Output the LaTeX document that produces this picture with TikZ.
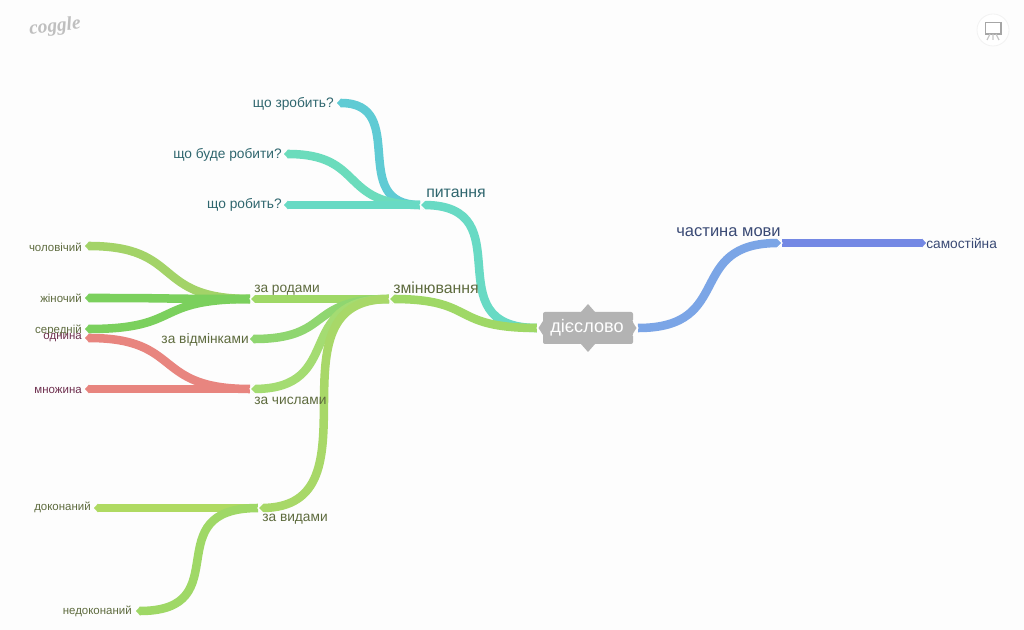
\documentclass[tikz,border=0pt]{standalone}
\usepackage{fontspec}
\setmainfont{Liberation Sans}
\newfontfamily\logofont{Liberation Serif}
\usetikzlibrary{arrows.meta,calc}
\definecolor{bgc}{HTML}{FDFDFD}
\definecolor{rootc}{HTML}{B3B3B3}
\definecolor{cA}{HTML}{5FCBD4}
\definecolor{cB}{HTML}{6BDCBC}
\definecolor{cC}{HTML}{68DAC4}
\definecolor{cD}{HTML}{A3D368}
\definecolor{cE}{HTML}{7BD05D}
\definecolor{cF}{HTML}{8FD670}
\definecolor{cG}{HTML}{A4DC72}
\definecolor{cH}{HTML}{E8857F}
\definecolor{cI}{HTML}{A8D868}
\definecolor{cJ}{HTML}{AFDA62}
\definecolor{cK}{HTML}{9FD866}
\definecolor{cL}{HTML}{7BA5E6}
\definecolor{cM}{HTML}{7488E4}
\definecolor{tTeal}{HTML}{2F666E}
\definecolor{tGreen}{HTML}{5E6B3E}
\definecolor{tRed}{HTML}{6E2F4E}
\definecolor{tBlue}{HTML}{3A4A75}
\newcommand{\conn}[4][0.6]{%
  \draw[branch,draw=#4] let \p1=(#2),\p2=(#3) in (#2) .. controls ({\x1+#1*(\x2-\x1)},\y1) and ({\x2-#1*(\x2-\x1)},\y2) .. (#3);}
\newcommand{\chevL}[1]{\draw[chev] ($(#1)+(5,-5)$) -- (#1) -- ($(#1)+(5,5)$);}
\newcommand{\chevR}[1]{\draw[chev] ($(#1)+(-5,-5)$) -- (#1) -- ($(#1)+(-5,5)$);}
\tikzset{
  x=0.75pt,y=-0.75pt,
  branch/.style={line width=6.4pt,-{Triangle[length=3pt,width=6.4pt]}},
  chev/.style={draw=white,line width=0.8pt},
  small/.style={inner sep=0pt,font=\fontsize{8.6pt}{9pt}\selectfont},
  mid/.style={inner sep=0pt,font=\fontsize{10.3pt}{11pt}\selectfont},
  large/.style={inner sep=0pt,font=\fontsize{11.9pt}{12pt}\selectfont},
}
\begin{document}
\begin{tikzpicture}
\useasboundingbox (0,0) rectangle (1024,630);
\fill[bgc] (0,0) rectangle (1024,630);
% junctions and ends
\coordinate (rl) at (537,328);
\coordinate (rr) at (638,328);
\coordinate (jpyt) at (420,205);
\coordinate (jzmi) at (389,299);
\coordinate (jrod) at (250,299);
\coordinate (jvid) at (250,339);
\coordinate (jchy) at (250,389);
\coordinate (jvyd) at (258,508);
\coordinate (jcha) at (782,243);
\coordinate (e1) at (337,103);
\coordinate (e2) at (284,154);
\coordinate (e3) at (284,205);
\coordinate (e4) at (85,246);
\coordinate (e5) at (85,298);
\coordinate (e6) at (85,329);
\coordinate (e7) at (85,338);
\coordinate (e8) at (85,389);
\coordinate (e9) at (94,508);
\coordinate (e10) at (136,611);
\coordinate (e11) at (926,243);
% connectors, outermost first
\conn[0.88]{jpyt}{e1}{cA}
\conn{jpyt}{e2}{cB}
\conn{jpyt}{e3}{cC}
\conn{jrod}{e4}{cD}
\conn{jrod}{e5}{cE}
\conn{jrod}{e6}{cE}
\conn{jchy}{e7}{cH}
\conn{jchy}{e8}{cH}
\conn{jvyd}{e9}{cJ}
\conn[0.85]{jvyd}{e10}{cK}
\conn{jcha}{e11}{cM}
\conn[0.9]{rl}{jpyt}{cC}
\conn{jzmi}{jrod}{cK}
\conn{jzmi}{jvid}{cF}
\conn[0.7]{jzmi}{jchy}{cG}
\conn[0.97]{jzmi}{jvyd}{cI}
\conn{rl}{jzmi}{cK}
\conn[0.68]{rr}{jcha}{cL}
\chevL{jpyt}\chevL{jzmi}\chevL{jrod}\chevL{jchy}\chevL{jvyd}\chevR{jcha}
% central topic
\fill[rootc,rounded corners=1.5pt] (543,312) rectangle (633,344);
\fill[rootc] (581,312) -- (588,304) -- (595,312) -- cycle;
\fill[rootc] (581,344) -- (588,352) -- (595,344) -- cycle;
\fill[bgc] (537,320) rectangle (539,336);
\fill[rootc] (543,321) -- (538.5,328) -- (543,335) -- cycle;
\fill[rootc] (632,321) -- (636.5,328) -- (632,335) -- cycle;
\draw[chev] (542,320) -- (537,328) -- (542,336);
\draw[chev] (633,320) -- (638,328) -- (633,336);
\node[text=white,inner sep=0pt,font=\fontsize{13.6pt}{14pt}\selectfont] (root) at (587,328) {дієслово};
% labels
\node[mid,anchor=east,text=tTeal] (n1) at (334,104) {що зробить?};
\node[mid,anchor=east,text=tTeal] (n2) at (282,155) {що буде робити?};
\node[mid,anchor=east,text=tTeal] (n3) at (282,205) {що робить?};
\node[large,anchor=west,text=tTeal] (n4) at (426,193) {питання};
\node[large,anchor=west,text=tGreen] (n5) at (393,288) {змінювання};
\node[mid,anchor=west,text=tGreen] (n6) at (254,290) {за родами};
\node[mid,anchor=east,text=tGreen] (n7) at (249,340) {за відмінками};
\node[mid,anchor=west,text=tGreen] (n8) at (254,401) {за числами};
\node[mid,anchor=west,text=tGreen] (n9) at (262,519) {за видами};
\node[small,anchor=east,text=tGreen] (n10) at (82,247) {чоловічий};
\node[small,anchor=east,text=tGreen] (n11) at (82,298) {жіночий};
\node[small,anchor=east,text=tGreen] (n12) at (82,330) {середній};
\node[small,anchor=east,text=tRed] (n13) at (82,338) {однина};
\node[small,anchor=east,text=tRed] (n14) at (82,390) {множина};
\node[small,anchor=east,text=tGreen] (n15) at (91,507) {доконаний};
\node[small,anchor=east,text=tGreen] (n16) at (132,611) {недоконаний};
\node[large,anchor=east,text=tBlue,font=\fontsize{12.4pt}{13pt}\selectfont] (n17) at (781,232) {частина мови};
\node[mid,anchor=west,text=tBlue] (n18) at (926,243) {самостійна};
% logo
\node[inner sep=0pt,text=black!25,rotate=6,font=\logofont\itshape\bfseries\fontsize{14.5pt}{15pt}\selectfont] (logo) at (55,27) {coggle};
% presentation button
\fill[white] (993,30) circle (16);
\draw[black!5,line width=0.6pt] (993,30) circle (16);
\draw[black!35,line width=1.1pt] (985.5,22.5) rectangle (1001,34);
\draw[black!22,line width=0.9pt] (993,34) -- (993,40) (990,34) -- (987,40) (996,34) -- (999,40);
\end{tikzpicture}
\end{document}
